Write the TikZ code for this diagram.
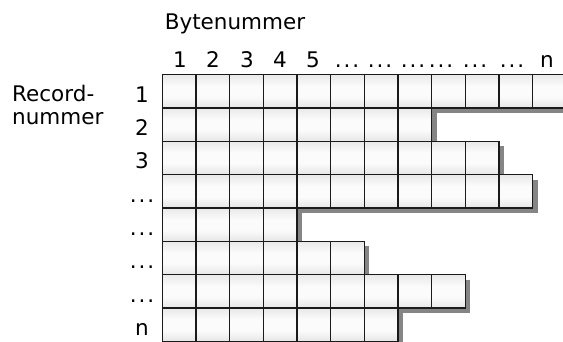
\documentclass[tikz,border=0pt]{standalone}
\usepackage{fontspec}
\setmainfont{DejaVu Sans}
\usetikzlibrary{positioning}

% vertical cell shading: grey at top and bottom, nearly white slightly below the middle
\definecolor{celltop}{HTML}{CDCDCD}
\definecolor{cellmid}{HTML}{FBFBFB}
\definecolor{cellbot}{HTML}{C6C6C6}
\definecolor{shadowgray}{HTML}{858585}
\definecolor{gridline}{HTML}{1A1A1A}
\pgfdeclareverticalshading{cellshade}{100bp}{%
  color(0bp)=(cellbot); color(42bp)=(cellmid); color(58bp)=(cellmid); color(100bp)=(celltop)}

\newcommand{\tdots}{.\kern1.9pt.\kern1.9pt.}

\begin{document}
\begin{tikzpicture}[x=1pt,y=1pt,
  lbl/.style={font=\fontsize{21.5}{24}\selectfont, inner sep=0pt, anchor=base},
  cell/.style={rectangle, draw=gridline, line width=1.4pt, shading=cellshade,
               minimum width=33.67pt, minimum height=33.35pt, inner sep=0pt, outer sep=0pt,
               anchor=north west},
  rowshadow/.style={fill=shadowgray, draw=none}]

\useasboundingbox (0,0) rectangle (563,342);
\clip (0,0) rectangle (563,342);

% axis titles
\node[lbl] (bytetitle) at (235,312) {Bytenummer};
\node[lbl, anchor=base west] (rectitle1) at (12,240.3) {Record-};
\node[lbl, anchor=base west] (rectitle2) at (12,217) {nummer};

% column numbers
\foreach \x/\t [count=\i] in {180/1, 213/2, 247/3, 280/4, 313/5,
    347/\tdots, 380/\tdots, 413/\tdots, 441/\tdots, 475/\tdots, 512/\tdots, 547/n}
  \node[lbl] (col-\i) at (\x,274) {\t};

% grid origin and cell size
\def\xo{162.2}
\def\yo{267.3}
\def\cw{33.67}
\def\ch{33.35}

% drop shadows of the records (drawn first, below all cells)
\foreach \n [count=\r] in {12,8,10,11,4,6,9,7} {
  \fill[rowshadow] ({\xo+5},{\yo-(\r-1)*\ch-5}) rectangle ({\xo+\n*\cw+5},{\yo-\r*\ch-5});
}

% record cells
\foreach \n [count=\r] in {12,8,10,11,4,6,9,7} {
  \foreach \k in {1,...,\n} {
    \node[cell] (c-\r-\k) at ({\xo+(\k-1)*\cw},{\yo-(\r-1)*\ch}) {};
  }
}

% record numbers
\foreach \t [count=\r] in {1,2,3,\tdots,\tdots,\tdots,\tdots,n}
  \node[lbl] (row-\r) at (142,{\yo-\r*\ch+6}) {\t};

\end{tikzpicture}
\end{document}
